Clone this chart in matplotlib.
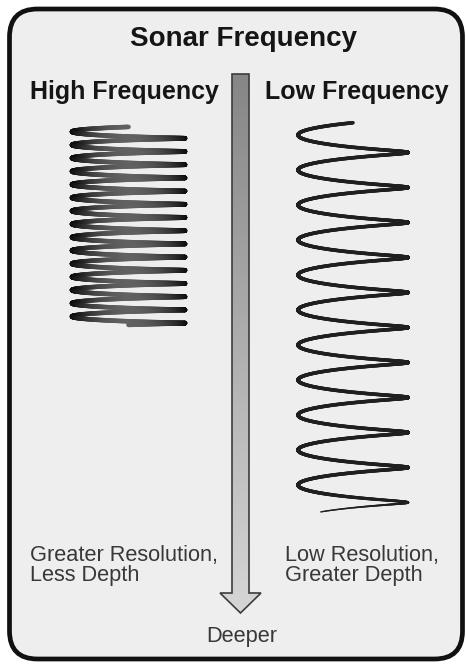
import numpy as np
import matplotlib.pyplot as plt
from matplotlib.patches import FancyBboxPatch, Polygon
from matplotlib.collections import LineCollection
from matplotlib.colors import LinearSegmentedColormap

# canvas (pixel units, y downwards)
W, H = 466, 666

# text
title = "Sonar Frequency"
coil_titles = ["High Frequency", "Low Frequency"]
coil_notes = [["Greater Resolution,", "Less Depth"],
              ["Low Resolution,", "Greater Depth"]]
arrow_label = "Deeper"

# coil geometry: centre x, half width, y of first left turn, pitch, loop opening
coil_cx = [128.5, 353.0]
coil_half = [56.5, 55.0]
coil_y0 = [131.7, 135.0]
coil_pitch = [13.2, 35.0]
coil_open = [1.5, 3.5]
# start / end phase (in units of pi)
coil_t0 = [-0.5, -0.5]
coil_t1 = [29.5, 21.7]
coil_lw = [3.3, 2.6]

# arrow geometry
shaft_x = [232.0, 249.0]
shaft_top = 74.0
head_x = [220.0, 261.0]
head_base = 593.0
head_tip = 613.0

fig = plt.figure(figsize=(W / 100, H / 100), dpi=100)
ax = fig.add_axes([0, 0, 1, 1])
ax.set_xlim(0, W)
ax.set_ylim(H, 0)
ax.axis('off')
fig.patch.set_facecolor('white')

# rounded frame
frame = FancyBboxPatch((9.5, 9), 453, 650,
                       boxstyle="round,pad=0,rounding_size=28",
                       facecolor='#eeeeee', edgecolor='#111111', linewidth=3.4)
ax.add_patch(frame)

font = ['Liberation Sans', 'DejaVu Sans']

ax.text(244, 46, title, ha='center', va='baseline', fontsize=20,
        fontweight='bold', color='#151515', family=font)
ax.text(30, 99, coil_titles[0], ha='left', va='baseline', fontsize=18,
        fontweight='bold', color='#151515', family=font)
ax.text(265, 99, coil_titles[1], ha='left', va='baseline', fontsize=18,
        fontweight='bold', color='#151515', family=font)

note_x = [30, 285]
for i, lines in enumerate(coil_notes):
    for j, line in enumerate(lines):
        ax.text(note_x[i], 561 + 19.5 * j, line, ha='left', va='baseline',
                fontsize=15.7, color='#383838', family=font)

ax.text(242, 642, arrow_label, ha='center', va='baseline', fontsize=15.7,
        color='#383838', family=font)

# arrow with gradient fill
xm = (head_x[0] + head_x[1]) / 2
arrow_pts = [(shaft_x[0], shaft_top), (shaft_x[1], shaft_top),
             (shaft_x[1], head_base), (head_x[1], head_base),
             (xm, head_tip), (head_x[0], head_base),
             (shaft_x[0], head_base)]
arrow = Polygon(arrow_pts, closed=True, facecolor='none',
                edgecolor='#3c3c3c', linewidth=1.2, zorder=3)
ax.add_patch(arrow)
grad_cmap = LinearSegmentedColormap.from_list('g', ['#868686', '#d6d6d6'])
grad = np.linspace(0, 1, 256).reshape(-1, 1)
im = ax.imshow(grad, cmap=grad_cmap, aspect='auto',
               extent=[head_x[0], head_x[1], head_tip, shaft_top], zorder=2)
im.set_clip_path(arrow)
ax.set_xlim(0, W)
ax.set_ylim(H, 0)

# coils
for k in range(2):
    t = np.linspace(coil_t0[k] * np.pi, coil_t1[k] * np.pi, 4000)
    x = coil_cx[k] - coil_half[k] * np.cos(t)
    y = coil_y0[k] + coil_pitch[k] * t / (2 * np.pi) + coil_open[k] * np.sin(t)
    pts = np.column_stack([x, y]).reshape(-1, 1, 2)
    segs = np.concatenate([pts[:-1], pts[1:]], axis=1)
    if k == 0:
        g = 0.05 + 0.33 * np.sin(t[:-1]) ** 2
        cols = np.column_stack([g, g, g, np.ones_like(g)])
        lws = np.full(len(segs), coil_lw[k])
    else:
        cols = np.tile([0.12, 0.12, 0.12, 1.0], (len(segs), 1))
        lws = np.full(len(segs), coil_lw[k])
        tail = t[:-1] > (coil_t1[k] - 1.4) * np.pi
        frac = (t[:-1][tail] - (coil_t1[k] - 1.4) * np.pi) / (1.4 * np.pi)
        lws[tail] = coil_lw[k] * (1 - 0.65 * frac)
    lc = LineCollection(segs, colors=cols, linewidths=lws, capstyle='round',
                        zorder=4)
    ax.add_collection(lc)

fig.savefig('out.png', dpi=100, facecolor='white')
